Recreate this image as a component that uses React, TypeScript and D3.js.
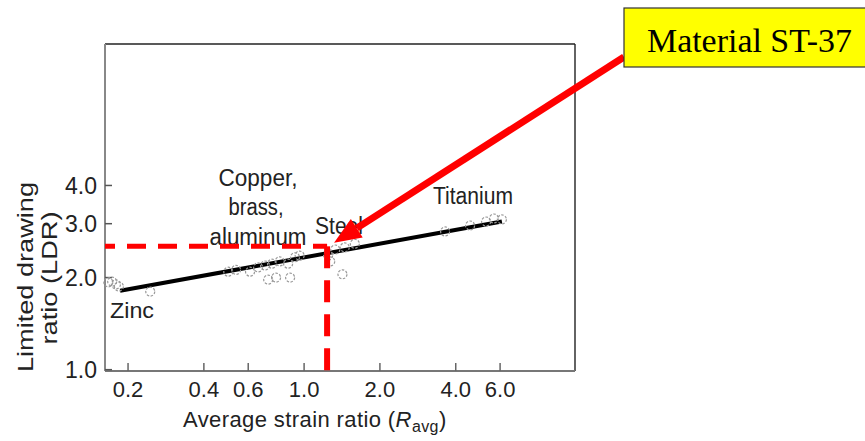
import React from "react";
import * as d3 from "d3";

const xTicks = [0.2, 0.4, 0.6, 1.0, 2.0, 4.0, 6.0];
const yTicks = [1.0, 2.0, 3.0, 4.0];

const zincR = [0.167, 0.173, 0.179, 0.184, 0.245];
const zincLDR = [1.93, 1.94, 1.9, 1.87, 1.8];
const copperR = [0.5, 0.537, 0.61, 0.657, 0.7, 0.746, 0.8, 0.864, 0.92, 0.72, 0.774, 0.88, 0.96];
const copperLDR = [2.09, 2.12, 2.09, 2.16, 2.19, 2.22, 2.26, 2.22, 2.33, 1.97, 2.0, 2.0, 2.36];
const steelR = [1.245, 1.33, 1.45, 1.59, 1.42, 1.27];
const steelLDR = [2.36, 2.47, 2.51, 2.58, 2.05, 2.26];
const titaniumR = [3.63, 4.56, 5.28, 5.67, 6.1];
const titaniumLDR = [2.83, 2.96, 3.05, 3.12, 3.1];

const fitR = [0.186, 6.1];
const fitLDR = [1.81, 3.05];

const st37R = 1.234;
const st37LDR = 2.53;
const arrowTipR = 1.315;
const arrowTipLDR = 2.6;

export default function App() {
  const x = d3.scaleLog().domain([0.162, 11.9]).range([105, 575]);
  const y = d3.scaleLog().domain([0.99, 11.6]).range([371, 44]);
  const [x0, x1] = x.range();
  const [y0, y1] = y.range();

  const pts: [number, number][] = [];
  [[zincR, zincLDR], [copperR, copperLDR], [steelR, steelLDR], [titaniumR, titaniumLDR]].forEach(([rs, ls]) => {
    rs.forEach((r, i) => pts.push([r, ls[i]]));
  });

  const line = d3.line<number>().x((_, i) => x(fitR[i])).y((_, i) => y(fitLDR[i]));

  const tip: [number, number] = [x(arrowTipR), y(arrowTipLDR)];
  const start: [number, number] = [624, 57];
  const dx = tip[0] - start[0];
  const dy = tip[1] - start[1];
  const len = Math.hypot(dx, dy);
  const ux = dx / len, uy = dy / len;
  const headL = 27, headW = 11;
  const base: [number, number] = [tip[0] - ux * headL, tip[1] - uy * headL];
  const c1: [number, number] = [base[0] - uy * headW, base[1] + ux * headW];
  const c2: [number, number] = [base[0] + uy * headW, base[1] - ux * headW];

  const sans = "'Liberation Sans', Arial, Helvetica, sans-serif";

  return (
    <svg width={865} height={441} style={{ position: "absolute", left: 0, top: 0, display: "block", background: "#fff" }}>
      <rect x={0} y={0} width={865} height={441} fill="#fff" />
      <line x1={x0} y1={y1} x2={x1} y2={y1} stroke="#222" strokeWidth={1.6} />
      <line x1={x1} y1={y1} x2={x1} y2={y0} stroke="#222" strokeWidth={1.4} />
      <line x1={x0} y1={y1} x2={x0} y2={y0} stroke="#888" strokeWidth={2} />
      <line x1={x0} y1={y0} x2={x1} y2={y0} stroke="#777" strokeWidth={2} />

      {xTicks.map((t) => (
        <g key={"xt" + t}>
          <line x1={x(t)} x2={x(t)} y1={y0} y2={y0 - 8} stroke="#666" strokeWidth={1.5} />
          <text x={x(t)} y={397} textAnchor="middle" fontFamily={sans} fontSize={22} fill="#222">
            {t.toFixed(1)}
          </text>
        </g>
      ))}
      {yTicks.map((t) => (
        <g key={"yt" + t}>
          <line x1={x0} x2={x0 + 7} y1={y(t)} y2={y(t)} stroke="#555" strokeWidth={1.5} />
          <text x={97} y={y(t)} dy="0.36em" textAnchor="end" fontFamily={sans} fontSize={23} fill="#222">
            {t.toFixed(1)}
          </text>
        </g>
      ))}

      <text transform="translate(33,277) rotate(-90)" textAnchor="middle" fontFamily={sans} fontSize={22}
        textLength={190} lengthAdjust="spacingAndGlyphs" fill="#222">Limited drawing</text>
      <text transform="translate(57,278) rotate(-90)" textAnchor="middle" fontFamily={sans} fontSize={22}
        textLength={133} lengthAdjust="spacingAndGlyphs" fill="#222">ratio (LDR)</text>
      <text x={183} y={427} fontFamily={sans} fontSize={22} letterSpacing={0.4} fill="#222">
        Average strain ratio (<tspan fontStyle="italic">R</tspan>
        <tspan fontSize={16} dy={5}>avg</tspan>
        <tspan dy={-5}>)</tspan>
      </text>

      <path d={line([0, 1]) || ""} stroke="#000" strokeWidth={4} fill="none" />

      {pts.map(([r, l], i) => (
        <circle key={"p" + i} cx={x(r)} cy={y(l)} r={4.5} fill="none" stroke="#999" strokeWidth={1.2} strokeDasharray="2.5 1.5" />
      ))}

      <text x={110} y={318} fontFamily={sans} fontSize={22} textLength={44} lengthAdjust="spacingAndGlyphs" fill="#222">Zinc</text>
      <text x={258} y={186} textAnchor="middle" fontFamily={sans} fontSize={23} textLength={79} lengthAdjust="spacingAndGlyphs" fill="#222">Copper,</text>
      <text x={256} y={215} textAnchor="middle" fontFamily={sans} fontSize={23} textLength={55} lengthAdjust="spacingAndGlyphs" fill="#222">brass,</text>
      <text x={258} y={245} textAnchor="middle" fontFamily={sans} fontSize={23} textLength={97} lengthAdjust="spacingAndGlyphs" fill="#222">aluminum</text>
      <text x={315} y={234} fontFamily={sans} fontSize={23} textLength={48} lengthAdjust="spacingAndGlyphs" fill="#222">Steel</text>
      <text x={433} y={204} fontFamily={sans} fontSize={23} textLength={80} lengthAdjust="spacingAndGlyphs" fill="#222">Titanium</text>

      <line x1={x0} x2={x(st37R)} y1={y(st37LDR)} y2={y(st37LDR)} stroke="#f00" strokeWidth={5}
        strokeDasharray="19 12" strokeDashoffset={9} />
      <line x1={x(st37R)} x2={x(st37R)} y1={y(st37LDR)} y2={y0} stroke="#f00" strokeWidth={6}
        strokeDasharray="22 12" />

      <line x1={start[0]} y1={start[1]} x2={base[0]} y2={base[1]} stroke="#f00" strokeWidth={7} />
      <polygon points={[tip, c1, c2].map((p) => p.join(",")).join(" ")} fill="#f00" />

      <rect x={624} y={8} width={260} height={59} fill="#ffff00" stroke="#333" strokeWidth={1.2} />
      <text x={647} y={52} fontFamily="'Liberation Serif', 'Times New Roman', serif" fontSize={33}
        textLength={205} lengthAdjust="spacingAndGlyphs" fill="#000">Material ST-37</text>
    </svg>
  );
}
